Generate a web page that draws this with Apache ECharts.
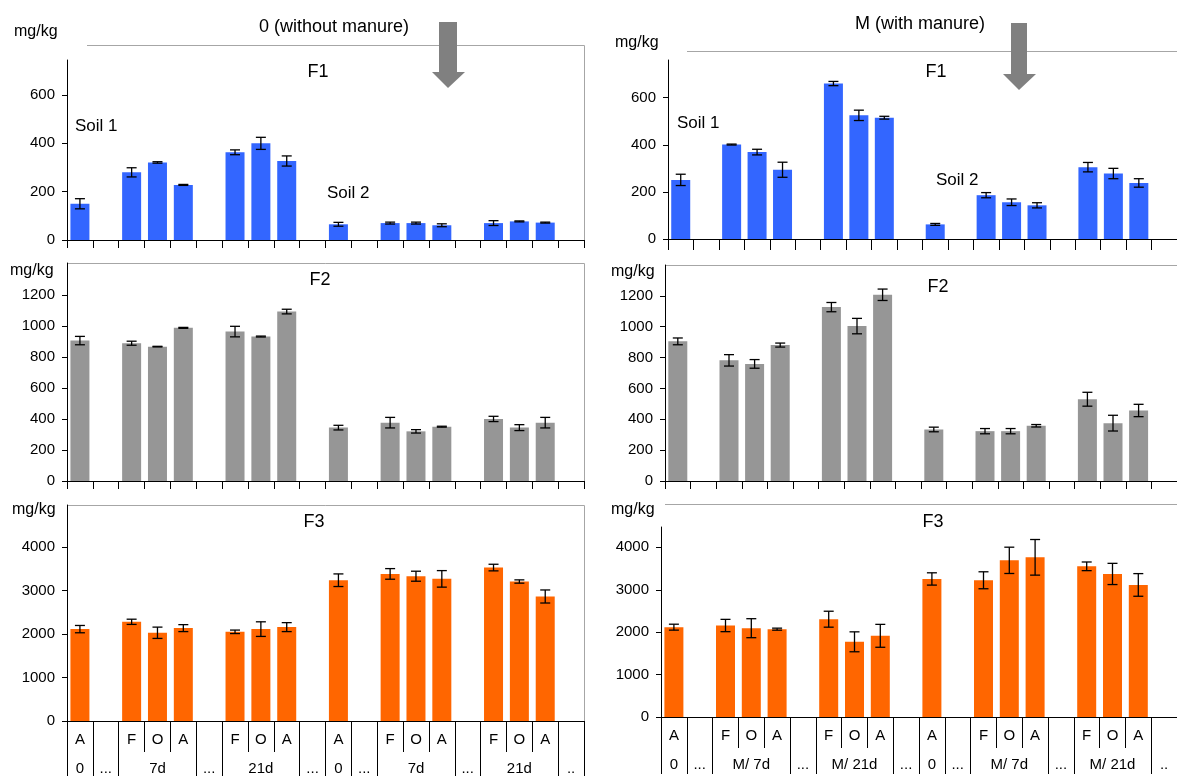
<!DOCTYPE html>
<html>
<head>
<meta charset="utf-8">
<script src="https://cdn.jsdelivr.net/npm/echarts@6/dist/echarts.min.js"></script>
<style>
  html, body { margin: 0; padding: 0; background: #fff; }
  #chart { width: 1177px; height: 776px; }
</style>
</head>
<body>
<div id="chart"></div>
<script>
// 20 category slots along each x axis, blanks are the "..." gaps
const slotLetters = ['A', '', 'F', 'O', 'A', '', 'F', 'O', 'A', '', 'A', '', 'F', 'O', 'A', '', 'F', 'O', 'A', ''];
const barSlots = [0, 2, 3, 4, 6, 7, 8, 10, 12, 13, 14, 16, 17, 18];
// second label row (sampling time)
const groupStarts = [0, 1, 2, 5, 6, 9, 10, 11, 12, 15, 16, 19];
const groupLabelSlots = [0, 1, 3, 5, 7, 9, 10, 11, 13, 15, 17, 19];
const groupLabels0 = ['0', '...', '7d', '...', '21d', '...', '0', '...', '7d', '...', '21d', '..'];
const groupLabelsM = ['0', '...', 'M/ 7d', '...', 'M/ 21d', '...', '0', '...', 'M/ 7d', '...', 'M/ 21d', '..'];

// y tick labels
const ticksF1 = [0, 200, 400, 600];
const ticksF2 = [0, 200, 400, 600, 800, 1000, 1200];
const ticksF3 = [0, 1000, 2000, 3000, 4000];

// 0 (without manure)
const f1Without = [150, 280, 321, 228, 363, 400, 327, 65, 70, 70, 61, 70, 77, 72];
const f1WithoutErr = [21, 19, 3, 2, 10, 25, 21, 8, 4, 4, 6, 10, 2, 2];
const f2Without = [905, 888, 866, 987, 963, 931, 1092, 344, 376, 320, 350, 400, 344, 376];
const f2WithoutErr = [27, 13, 2, 3, 34, 3, 15, 15, 34, 11, 3, 17, 19, 34];
const f3Without = [2112, 2280, 2028, 2135, 2050, 2112, 2158, 3236, 3381, 3328, 3267, 3527, 3206, 2862];
const f3WithoutErr = [84, 60, 130, 80, 40, 168, 103, 145, 122, 115, 190, 76, 38, 150];

// M (with manure)
const f1With = [251, 401, 369, 294, 660, 525, 515, 62, 186, 156, 143, 305, 278, 238];
const f1WithErr = [24, 2, 12, 32, 9, 22, 6, 4, 11, 14, 11, 20, 22, 18];
const f2With = [905, 782, 759, 881, 1127, 1004, 1207, 334, 323, 323, 358, 530, 375, 457];
const f2WithErr = [22, 37, 28, 13, 30, 50, 37, 15, 17, 17, 8, 45, 51, 40];
const f3With = [2118, 2157, 2094, 2071, 2306, 1773, 1914, 3255, 3224, 3694, 3765, 3553, 3373, 3114];
const f3WithErr = [70, 145, 224, 24, 188, 235, 270, 145, 200, 310, 420, 102, 250, 267];

const FONT = '"Liberation Sans", Arial, sans-serif';
const BLUE = '#3366ff', GREY = '#969696', ORANGE = '#ff6600';

const panels = [
  { grid: { left: 67, top: 60, width: 517, height: 180 }, max: 745, ticks: ticksF1, vals: f1Without, errs: f1WithoutErr, color: BLUE, tick: 8 },
  { grid: { left: 67, top: 263, width: 517, height: 218 }, max: 1405, ticks: ticksF2, vals: f2Without, errs: f2WithoutErr, color: GREY, tick: 8 },
  { grid: { left: 67, top: 505, width: 517, height: 216 }, max: 4965, ticks: ticksF3, vals: f3Without, errs: f3WithoutErr, color: ORANGE, groups: groupLabels0 },
  { grid: { left: 668, top: 60, width: 530, height: 179 }, max: 760, ticks: ticksF1, vals: f1With, errs: f1WithErr, color: BLUE, tick: 11 },
  { grid: { left: 665, top: 265, width: 530, height: 216 }, max: 1400, ticks: ticksF2, vals: f2With, errs: f2WithErr, color: GREY, tick: 8 },
  { grid: { left: 661, top: 527, width: 530, height: 190 }, max: 4480, ticks: ticksF3, vals: f3With, errs: f3WithErr, color: ORANGE, groups: groupLabelsM }
];

function errorBar(params, api) {
  const lo = api.coord([api.value(0), api.value(1)]);
  const hi = api.coord([api.value(0), api.value(2)]);
  const w = 5;
  const style = { stroke: '#000', lineWidth: 1.3 };
  return {
    type: 'group',
    children: [
      { type: 'line', shape: { x1: lo[0], y1: lo[1], x2: hi[0], y2: hi[1] }, style: style },
      { type: 'line', shape: { x1: hi[0] - w, y1: hi[1], x2: hi[0] + w, y2: hi[1] }, style: style },
      { type: 'line', shape: { x1: lo[0] - w, y1: lo[1], x2: lo[0] + w, y2: lo[1] }, style: style }
    ]
  };
}

const slotIds = slotLetters.map((s, i) => 's' + i);
const xAxes = [], yAxes = [], series = [];

panels.forEach((p, i) => {
  const xIndex = xAxes.length;
  xAxes.push({
    type: 'category',
    gridIndex: i,
    data: slotIds,
    boundaryGap: true,
    axisLine: { show: true, lineStyle: { color: '#000', width: 1 } },
    axisTick: { show: true, interval: 0, alignWithLabel: false, length: p.groups ? 31 : p.tick, lineStyle: { color: '#000', width: 1 } },
    axisLabel: {
      show: !!p.groups,
      interval: 0,
      margin: 11,
      fontSize: 15,
      color: '#000',
      formatter: (v, idx) => slotLetters[idx]
    },
    splitLine: { show: false }
  });
  if (p.groups) {
    const labels = p.groups;
    xAxes.push({
      type: 'category',
      gridIndex: i,
      position: 'bottom',
      offset: 31,
      data: slotIds,
      boundaryGap: true,
      axisLine: { show: false },
      axisTick: {
        show: true,
        length: 26,
        interval: idx => groupStarts.includes(idx),
        lineStyle: { color: '#000', width: 1 }
      },
      axisLabel: {
        interval: idx => groupLabelSlots.includes(idx),
        margin: 9,
        fontSize: 15,
        color: '#000',
        formatter: (v, idx) => {
          const k = groupLabelSlots.indexOf(idx);
          return k >= 0 ? labels[k] : '';
        }
      },
      splitLine: { show: false }
    });
  }
  yAxes.push({
    type: 'value',
    gridIndex: i,
    min: 0,
    max: p.max,
    axisLine: { show: true, lineStyle: { color: '#000', width: 1 } },
    axisTick: { show: true, length: 5, customValues: p.ticks, lineStyle: { color: '#000' } },
    axisLabel: {
      fontSize: 15,
      color: '#000',
      margin: 12,
      customValues: p.ticks,
      formatter: v => String(v)
    },
    splitLine: { show: false }
  });
  series.push({
    type: 'bar',
    xAxisIndex: xIndex,
    yAxisIndex: i,
    barWidth: 19,
    itemStyle: { color: p.color },
    data: p.vals.map((v, k) => [barSlots[k], v])
  });
  series.push({
    type: 'custom',
    xAxisIndex: xIndex,
    yAxisIndex: i,
    renderItem: errorBar,
    encode: { x: 0, y: [1, 2] },
    z: 5,
    data: p.vals.map((v, k) => [barSlots[k], v - p.errs[k], v + p.errs[k]])
  });
});

const frameStyle = { stroke: '#a6a6a6', lineWidth: 1, fill: null };
const arrowStyle = { fill: '#808080' };
function txt(text, x, y, size, align) {
  return {
    type: 'text', z: 10,
    style: { text: text, x: x, y: y, fill: '#000', font: size + 'px ' + FONT, textAlign: align || 'center', textVerticalAlign: 'middle' }
  };
}

const graphic = [
  { type: 'polyline', shape: { points: [[87, 45.5], [584.5, 45.5], [584.5, 240]] }, style: frameStyle },
  { type: 'polyline', shape: { points: [[67, 263.5], [584.5, 263.5], [584.5, 481]] }, style: frameStyle },
  { type: 'polyline', shape: { points: [[67, 505.5], [584.5, 505.5], [584.5, 721]] }, style: frameStyle },
  { type: 'polyline', shape: { points: [[687, 51.5], [1177, 51.5]] }, style: frameStyle },
  { type: 'polyline', shape: { points: [[665, 265.5], [1177, 265.5]] }, style: frameStyle },
  { type: 'polyline', shape: { points: [[665, 504.5], [1177, 504.5]] }, style: frameStyle },
  { type: 'polygon', z: 8, shape: { points: [[439, 22], [457, 22], [457, 72], [465, 72], [448, 88], [432, 72], [439, 72]] }, style: arrowStyle },
  { type: 'polygon', z: 8, shape: { points: [[1011, 23], [1027, 23], [1027, 74], [1036, 74], [1019, 90], [1003, 74], [1011, 74]] }, style: arrowStyle },
  txt('0 (without manure)', 334, 27, 18),
  txt('M (with manure)', 920, 24, 18),
  txt('mg/kg', 14, 32, 16, 'left'),
  txt('mg/kg', 10, 271, 16, 'left'),
  txt('mg/kg', 12, 510, 16, 'left'),
  txt('mg/kg', 615, 43, 16, 'left'),
  txt('mg/kg', 611, 272, 16, 'left'),
  txt('mg/kg', 611, 510, 16, 'left'),
  txt('F1', 318, 72, 18),
  txt('F2', 320, 280, 18),
  txt('F3', 314, 522, 18),
  txt('F1', 936, 72, 18),
  txt('F2', 938, 287, 18),
  txt('F3', 933, 522, 18),
  txt('Soil 1', 75, 126, 17, 'left'),
  txt('Soil 2', 327, 193, 17, 'left'),
  txt('Soil 1', 677, 123, 17, 'left'),
  txt('Soil 2', 936, 180, 17, 'left')
];

const chart = echarts.init(document.getElementById('chart'));
chart.setOption({
  animation: false,
  backgroundColor: '#fff',
  textStyle: { fontFamily: FONT },
  grid: panels.map(p => p.grid),
  xAxis: xAxes,
  yAxis: yAxes,
  series: series,
  graphic: graphic
});
</script>
</body>
</html>
